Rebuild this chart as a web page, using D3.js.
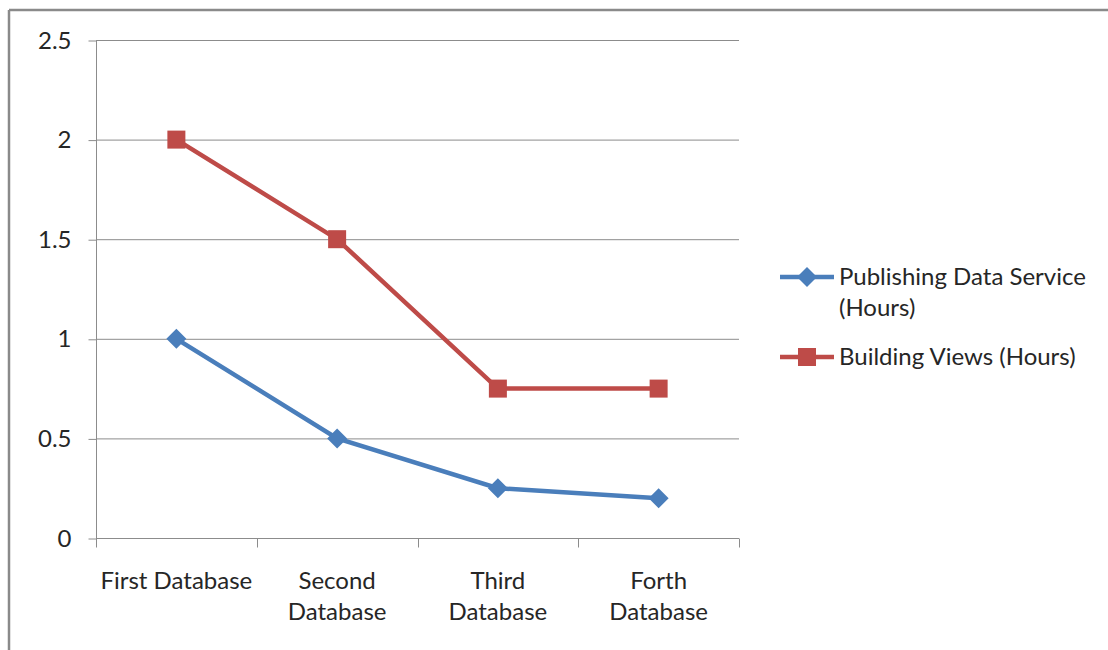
<!DOCTYPE html>
<html><head><meta charset="utf-8">
<script src="https://cdn.jsdelivr.net/npm/d3@7"></script>
<style>body{margin:0;background:#fff;} svg{display:block;}</style>
</head><body>
<svg id="chart" width="1108" height="650"></svg>
<script>
const categories = [["First Database"], ["Second", "Database"], ["Third", "Database"], ["Forth", "Database"]];
const publishing = [1, 0.5, 0.25, 0.2];
const building = [2, 1.5, 0.75, 0.75];
const yTicks = [0, 0.5, 1, 1.5, 2, 2.5];
const yTickLabels = ["0", "0.5", "1", "1.5", "2", "2.5"];
const seriesNames = [["Publishing Data Service", "(Hours)"], ["Building Views (Hours)"]];

const svg = d3.select("#chart");
const font = "Lato, 'Open Sans', sans-serif";
const fs = 24;
const gridColor = "#8c8c8c";
const textColor = "#262626";

// outer frame (top and left edges visible)
svg.append("line").attr("x1", 9).attr("x2", 1108).attr("y1", 10).attr("y2", 10).attr("stroke", "#8a8a8a").attr("stroke-width", 2.5);
svg.append("line").attr("x1", 9).attr("x2", 9).attr("y1", 10).attr("y2", 650).attr("stroke", "#8a8a8a").attr("stroke-width", 2.5);

const L = 96, R = 739, T = 40, B = 538;
const x = d3.scaleBand().domain(categories.map((d, i) => i)).range([L, R]);
const y = d3.scaleLinear().domain([0, 2.5]).range([B, T]);

// gridlines
svg.append("g").selectAll("line").data(yTicks.filter(d => d > 0)).join("line")
  .attr("x1", L).attr("x2", R).attr("y1", d => y(d) + 0.5).attr("y2", d => y(d) + 0.5)
  .attr("stroke", gridColor).attr("stroke-width", 1);

// y axis
const yAxis = d3.axisLeft(y).tickValues(yTicks).tickFormat((d, i) => yTickLabels[i]).tickSize(8).tickPadding(17);
const gy = svg.append("g").attr("transform", `translate(${L + 0.5},0.5)`).call(yAxis);
gy.select(".domain").attr("stroke", gridColor).attr("d", `M0,${T}V${B}`);
gy.selectAll(".tick line").attr("stroke", gridColor);
gy.selectAll(".tick text").attr("font-family", font).attr("font-size", fs).attr("fill", textColor);

// x axis
const gx = svg.append("g").attr("transform", `translate(0,${B + 0.5})`);
gx.append("line").attr("x1", L).attr("x2", R).attr("stroke", gridColor);
const tickPos = d3.range(categories.length + 1).map(i => i < categories.length ? x(i) : R);
gx.selectAll(".xt").data(tickPos).join("line").attr("class", "xt")
  .attr("x1", d => Math.round(d) + 0.5).attr("x2", d => Math.round(d) + 0.5).attr("y1", 0).attr("y2", 9)
  .attr("stroke", gridColor);
const xl = svg.append("g").selectAll("text").data(categories).join("text")
  .attr("x", (d, i) => x(i) + x.bandwidth() / 2).attr("y", 589)
  .attr("text-anchor", "middle").attr("font-family", font).attr("font-size", fs).attr("fill", textColor);
xl.selectAll("tspan").data(d => d).join("tspan")
  .attr("x", function() { return this.parentNode.getAttribute("x"); })
  .attr("dy", (d, i) => i === 0 ? 0 : 31).text(d => d);

const cx = i => x(i) + x.bandwidth() / 2;
const line = d3.line().x((d, i) => cx(i)).y(d => y(d));
const blue = "#4a7ebb", red = "#be4b48";

svg.append("path").datum(publishing).attr("d", line).attr("fill", "none").attr("stroke", blue).attr("stroke-width", 4.5);
svg.append("path").datum(building).attr("d", line).attr("fill", "none").attr("stroke", red).attr("stroke-width", 4.5);

function drawDiamond(g, px, py) {
  g.append("path").attr("d", "M0,-10L10,0L0,10L-10,0Z").attr("transform", `translate(${px},${py})`).attr("fill", blue);
}
function drawSquare(g, px, py) {
  g.append("rect").attr("x", px - 9).attr("y", py - 9).attr("width", 18).attr("height", 18).attr("fill", red);
}
const mk = svg.append("g");
publishing.forEach((v, i) => drawDiamond(mk, cx(i), y(v)));
building.forEach((v, i) => drawSquare(mk, cx(i), y(v)));

// legend
const lg = svg.append("g");
const legY = [277, 357];
const colors = [blue, red];
seriesNames.forEach((name, k) => {
  lg.append("line").attr("x1", 780).attr("x2", 834).attr("y1", legY[k]).attr("y2", legY[k]).attr("stroke", colors[k]).attr("stroke-width", 4.5);
  if (k === 0) drawDiamond(lg, 807, legY[k]); else drawSquare(lg, 807, legY[k]);
  const t = lg.append("text").attr("x", 839).attr("y", legY[k] + 8).attr("font-family", font).attr("font-size", fs).attr("fill", textColor);
  t.selectAll("tspan").data(name).join("tspan").attr("x", 839).attr("dy", (d, i) => i === 0 ? 0 : 31).text(d => d);
});
</script>
</body></html>
